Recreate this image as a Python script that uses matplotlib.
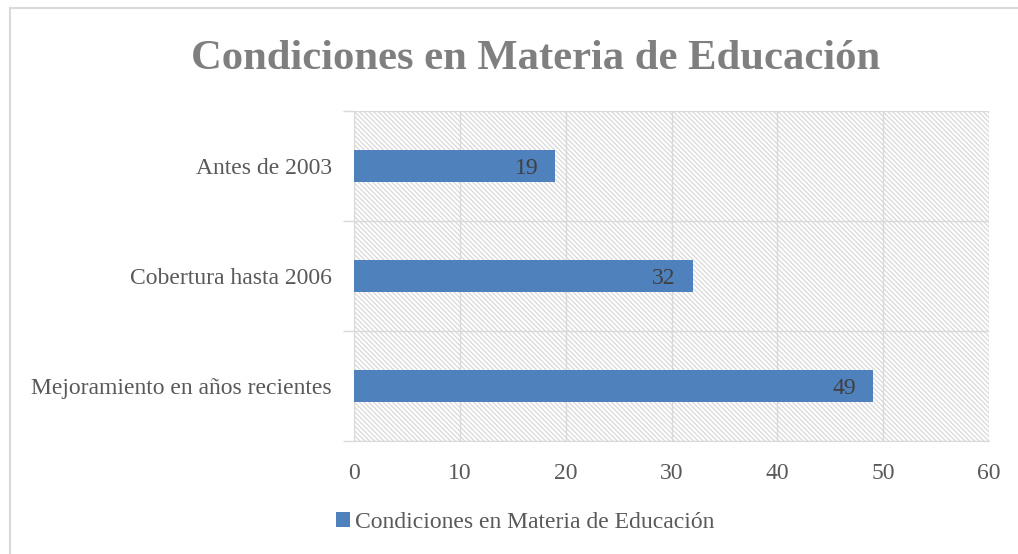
import numpy as np
import matplotlib.pyplot as plt
from matplotlib.patches import Rectangle, Patch

plt.rcParams['font.family'] = ['Liberation Serif', 'DejaVu Serif']
plt.rcParams['hatch.color'] = '#DCDCDC'
plt.rcParams['hatch.linewidth'] = 0.9

# Datos
categorias = ['Antes de 2003', 'Cobertura hasta 2006', 'Mejoramiento en años recientes']
valores = [19, 32, 49]
ticks_x = [0, 10, 20, 30, 40, 50, 60]
titulo = 'Condiciones en Materia de Educación'

azul = '#4F81BD'
gris_grid = '#D9D9D9'

fig = plt.figure(figsize=(10.18, 5.54), dpi=100)
# borde del gráfico
fig.patches.append(Rectangle((10 / 1018, -0.05), 1.2, 1.05 - 8 / 554, transform=fig.transFigure,
                             fill=False, edgecolor='#D9D9D9', linewidth=1.5))

ax = fig.add_axes([354 / 1018, 113 / 554, 635 / 1018, 330 / 554])

# fondo rayado
ax.add_patch(Rectangle((0, 0), 1, 1, transform=ax.transAxes, facecolor='white',
                       edgecolor=gris_grid, hatch='\\' * 7, linewidth=0, zorder=0))

y = np.arange(len(categorias))
barras = ax.barh(y, valores, height=0.29, color=azul, zorder=3)
for b, v in zip(barras, valores):
    ax.text(v - 1.6, b.get_y() + b.get_height() / 2, str(v), ha='right', va='center_baseline',
            fontsize=17, color='#404040', zorder=4)

ax.set_xlim(0, 60)
ax.set_ylim(len(categorias) - 0.5, -0.5)
ax.set_xticks(ticks_x)
ax.set_yticks(y)
ax.set_yticklabels(categorias)
ax.set_yticks(np.arange(len(categorias) + 1) - 0.5, minor=True)

ax.grid(axis='x', color=gris_grid, linewidth=1, zorder=1)
ax.grid(axis='y', which='minor', color=gris_grid, linewidth=1, zorder=1)
ax.set_axisbelow(True)

ax.tick_params(axis='x', length=0, pad=16, labelsize=17, labelcolor='#595959')
ax.tick_params(axis='y', which='major', length=0, pad=16, labelsize=17, labelcolor='#595959')
ax.tick_params(axis='y', which='minor', length=8, color=gris_grid, width=1)

for s in ['top', 'right']:
    ax.spines[s].set_visible(False)
ax.spines['left'].set_color(gris_grid)
ax.spines['bottom'].set_color(gris_grid)

fig.text(536 / 1018, 1 - 59 / 554, titulo, ha='center', va='center', fontsize=30.7,
         fontweight='bold', color='#7F7F7F')

fig.legend(handles=[Patch(facecolor=azul, label=titulo)], loc='center',
           bbox_to_anchor=(525 / 1018, 1 - 522 / 554), frameon=False, fontsize=17,
           labelcolor='#595959', handlelength=0.6, handleheight=0.6, handletextpad=0.2)

fig.savefig('out.png', dpi=100)
